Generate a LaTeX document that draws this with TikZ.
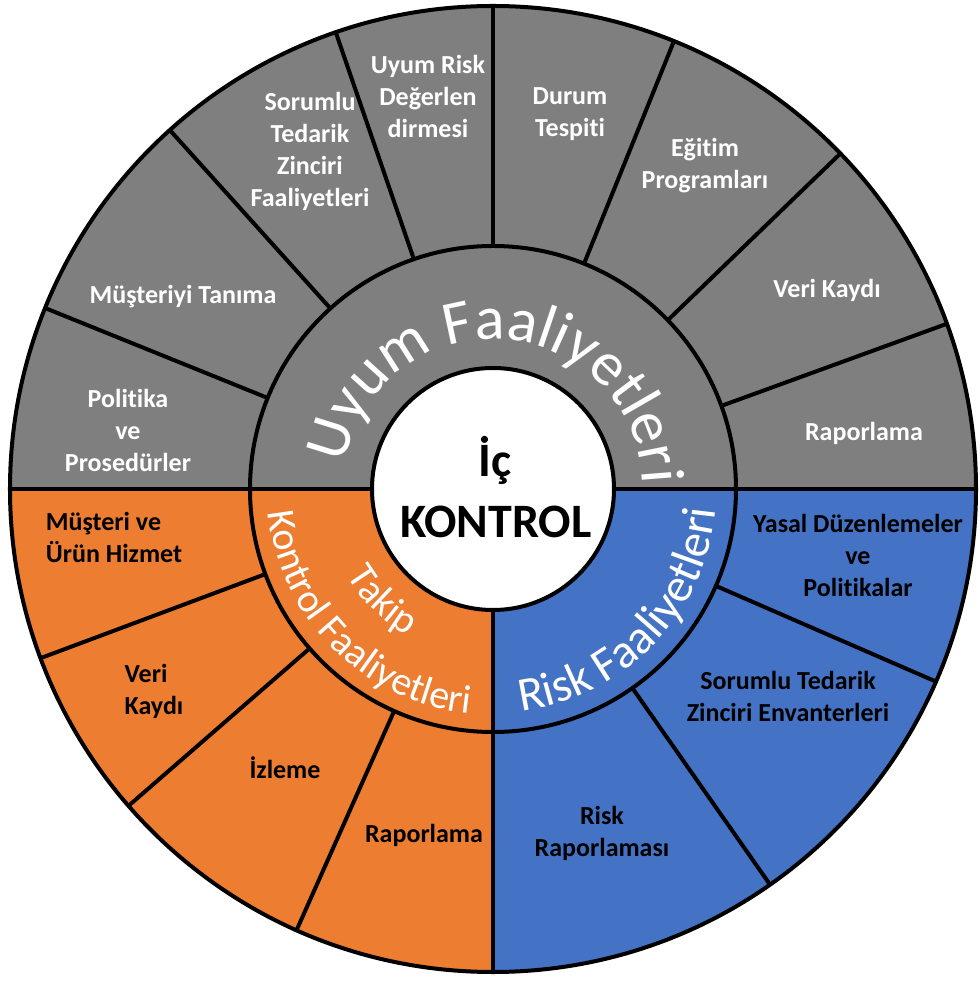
\documentclass[tikz,border=0pt]{standalone}
\usepackage{fontspec}
\setmainfont{Carlito}[Ligatures=NoCommon]
\usetikzlibrary{decorations.text}
\definecolor{uyumgray}{HTML}{7F7F7F}
\definecolor{takiporange}{HTML}{ED7D31}
\definecolor{riskblue}{HTML}{4472C4}

\begin{document}
\begin{tikzpicture}[x=1pt,y=1pt,
    divider/.style={line width=4pt},
    wcell/.style={text=white,font=\bfseries\fontsize{26}{32}\selectfont,align=center},
    bcell/.style={text=black,font=\bfseries\fontsize{26}{32}\selectfont,align=center}]
   \useasboundingbox (-493,-492) rectangle (486,489);
   \fill[uyumgray] (0,0) -- (0:483) arc (0:180:483) -- cycle;
   \fill[takiporange] (0,0) -- (180:483) arc (180:270:483) -- cycle;
   \fill[riskblue] (0,0) -- (270:483) arc (270:360:483) -- cycle;
   \fill[white] (0,0) circle (121);
   \foreach \a in {20,44,68,90,109,132,158,200.5,221,246,305,336.5}
     \draw[divider] (\a:243) -- (\a:483);
   \foreach \a in {0,180,270}
     \draw[divider] (\a:121) -- (\a:483);
   \draw[divider] (0,0) circle (483) (0,0) circle (243) (0,0) circle (121);
   \path[decorate,decoration={text along path,text align=center,text color=white,
       text={|\fontsize{62}{62}\selectfont|Uyum Faaliyetleri}}] (178:150) arc (178:-6:150);
   \path[decorate,decoration={text along path,text align=center,text color=white,
       text={|\fontsize{48}{48}\selectfont|Risk Faaliyetleri}}] (270:224) arc (270:362:224);
   \path[decorate,decoration={text along path,text align=center,text color=white,
       text={|\fontsize{40}{40}\selectfont|Takip}}] (180:170) arc (180:270:170);
   \path[decorate,decoration={text along path,text align=center,text color=white,
       text={|\fontsize{40}{40}\selectfont|Kontrol Faaliyetleri}}] (180:226) arc (180:270:226);
   \node[anchor=base,font=\bfseries\fontsize{48}{48}\selectfont] (ic) at (2,12) {İç};
   \node[anchor=base,font=\bfseries\fontsize{48}{48}\selectfont] (kontrol) at (3,-49) {KONTROL};
   \node[wcell] (politika) at (-365,59) {Politika\\ve\\Prosedürler};
   \node[wcell] (musteriyi) at (-310,192) {Müşteriyi Tanıma};
   \node[wcell] (tedarik) at (-183,338) {Sorumlu\\Tedarik\\Zinciri\\Faaliyetleri};
   \node[wcell] (uyumrisk) at (-65,393) {Uyum Risk\\Değerlen\\dirmesi};
   \node[wcell] (durum) at (77,375) {Durum\\Tespiti};
   \node[wcell] (egitim) at (212,323) {Eğitim\\Programları};
   \node[wcell] (verikaydi) at (334,199) {Veri Kaydı};
   \node[wcell] (raporlama) at (371,56) {Raporlama};
   \node[bcell,align=left] (urun) at (-379,-48) {Müşteri ve\\Ürün Hizmet};
   \node[bcell,align=left] (veri) at (-339,-202) {Veri\\Kaydı};
   \node[bcell] (izleme) at (-208,-279) {İzleme};
   \node[bcell] (takiprap) at (-69,-346) {Raporlama};
   \node[bcell] (yasal) at (365,-66) {Yasal Düzenlemeler\\ve\\Politikalar};
   \node[bcell] (envanter) at (295,-207) {Sorumlu Tedarik\\Zinciri Envanterleri};
   \node[bcell] (riskrap) at (109,-344) {Risk\\Raporlaması};
\end{tikzpicture}
\end{document}
